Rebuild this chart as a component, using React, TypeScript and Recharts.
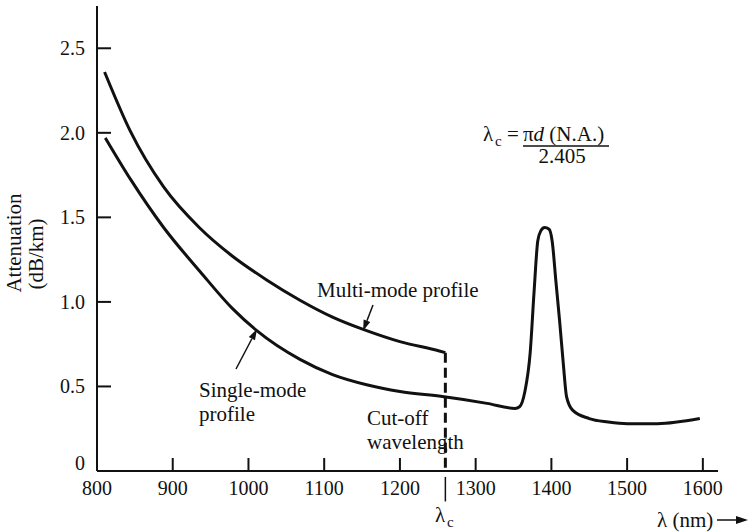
import React from 'react';
import { LineChart, Line, XAxis, YAxis, ReferenceLine } from 'recharts';

const xTicks = [800, 900, 1000, 1100, 1200, 1300, 1400, 1500, 1600];
const yTicks = [0, 0.5, 1.0, 1.5, 2.0, 2.5];
const yTickLabels = ['0', '0.5', '1.0', '1.5', '2.0', '2.5'];

// multi-mode fibre, stops at the cut-off wavelength
const multiModeNm = [810, 844, 888, 935, 979, 1024, 1068, 1111, 1156, 1200, 1252, 1260];
const multiModeDb = [2.36, 2.01, 1.68, 1.44, 1.27, 1.13, 1.01, 0.91, 0.83, 0.765, 0.71, 0.70];

// single-mode fibre, with the water peak near 1390 nm
const singleModeNm = [
  811, 845, 888, 936, 979, 1011, 1068, 1111, 1156, 1200, 1256, 1315, 1352, 1358,
  1365, 1372, 1377, 1382, 1386, 1391, 1397, 1401, 1406, 1411, 1416, 1420, 1428,
  1450, 1475, 1500, 1540, 1596,
];
const singleModeDb = [
  1.97, 1.72, 1.44, 1.18, 0.96, 0.83, 0.66, 0.57, 0.51, 0.47, 0.44, 0.40, 0.37, 0.38,
  0.47, 0.70, 1.05, 1.36, 1.42, 1.44, 1.43, 1.36, 1.12, 0.88, 0.62, 0.44, 0.36,
  0.31, 0.29, 0.28, 0.28, 0.31,
];

const cutoffNm = 1260;
const cutoffDb = 0.70;

const multiMode = multiModeNm.map((nm, i) => ({ nm, db: multiModeDb[i] }));
const singleMode = singleModeNm.map((nm, i) => ({ nm, db: singleModeDb[i] }));

const FONT = "'Liberation Serif', 'Times New Roman', serif";
const INK = '#111';

const XTick = (props: any) => {
  const { x, y, payload } = props;
  return (
    <g>
      {payload.value !== 800 && (
        <line x1={x} x2={x} y1={y} y2={y - 13} stroke={INK} strokeWidth={2} />
      )}
      <text x={x} y={y + 24} textAnchor="middle" fontFamily={FONT} fontSize={20} fill={INK}>
        {payload.value}
      </text>
    </g>
  );
};

const YTick = (props: any) => {
  const { x, y, payload } = props;
  const i = yTicks.indexOf(payload.value);
  const isZero = payload.value === 0;
  return (
    <g>
      {!isZero && <line x1={x} x2={x + 14} y1={y} y2={y} stroke={INK} strokeWidth={2} />}
      <text
        x={x - 12}
        y={isZero ? y - 1 : y + 7}
        textAnchor="end"
        fontFamily={FONT}
        fontSize={20}
        fill={INK}
      >
        {yTickLabels[i]}
      </text>
    </g>
  );
};

const Arrow = ({ x1, y1, x2, y2, head = 11, half = 3.5, sw = 1.5 }: any) => {
  const a = Math.atan2(y2 - y1, x2 - x1);
  const bx = x2 - head * Math.cos(a);
  const by = y2 - head * Math.sin(a);
  const px = -Math.sin(a) * half;
  const py = Math.cos(a) * half;
  return (
    <g>
      <line x1={x1} y1={y1} x2={bx} y2={by} stroke={INK} strokeWidth={sw} />
      <polygon points={`${x2},${y2} ${bx + px},${by + py} ${bx - px},${by - py}`} fill={INK} />
    </g>
  );
};

const txt = { fontFamily: FONT, fontSize: 21, fill: INK };

export default function App() {
  return (
    <div style={{ position: 'absolute', left: 0, top: 0, background: '#fff' }}>
      <LineChart
        width={749}
        height={532}
        margin={{ top: 6, right: 31, bottom: 0, left: 0 }}
      >
        <XAxis
          type="number"
          dataKey="nm"
          domain={[800, 1620]}
          ticks={xTicks}
          height={61}
          tickSize={0}
          tickMargin={0}
          tickLine={false}
          axisLine={{ stroke: INK, strokeWidth: 2 }}
          tick={<XTick />}
        />
        <YAxis
          type="number"
          domain={[0, 2.75]}
          ticks={yTicks}
          width={97}
          tickSize={0}
          tickMargin={0}
          tickLine={false}
          axisLine={{ stroke: INK, strokeWidth: 2 }}
          tick={<YTick />}
        />
        <Line
          data={multiMode}
          dataKey="db"
          type="monotone"
          stroke={INK}
          strokeWidth={3}
          dot={false}
          isAnimationActive={false}
        />
        <Line
          data={singleMode}
          dataKey="db"
          type="monotone"
          stroke={INK}
          strokeWidth={3}
          dot={false}
          isAnimationActive={false}
        />
        <ReferenceLine
          segment={[{ x: cutoffNm, y: cutoffDb }, { x: cutoffNm, y: 0 }]}
          stroke={INK}
          strokeWidth={3}
          strokeDasharray="10 5"
        />
        <ReferenceLine
          segment={[{ x: cutoffNm, y: -0.035 }, { x: cutoffNm, y: -0.18 }]}
          stroke={INK}
          strokeWidth={1.5}
          ifOverflow="visible"
        />

        {/* y axis title */}
        <text {...txt} transform="translate(21,243) rotate(-90)" textAnchor="middle">
          Attenuation
        </text>
        <text {...txt} transform="translate(43,254) rotate(-90)" textAnchor="middle">
          (dB/km)
        </text>

        {/* curve labels */}
        <text {...txt} x={317} y={297}>Multi-mode profile</text>
        <Arrow x1={373} y1={305} x2={363} y2={331} />
        <text {...txt} x={199} y={397}>Single-mode</text>
        <text {...txt} x={199} y={421}>profile</text>
        <Arrow x1={236} y1={369} x2={257} y2={329} />
        <text {...txt} x={367} y={425}>Cut-off</text>
        <text {...txt} x={367} y={449}>wavelength</text>

        {/* cut-off marker under the axis */}
        <text {...txt} x={435} y={522}>λ</text>
        <text {...txt} fontSize={15} x={447} y={527}>c</text>

        {/* axis title with arrow */}
        <text {...txt} x={657} y={527}>λ (nm)</text>
        <Arrow x1={717} y1={520} x2={748} y2={520} head={12} half={4} sw={1.5} />

        {/* cut-off wavelength formula */}
        <text {...txt} x={483} y={141}>λ</text>
        <text {...txt} fontSize={15} x={495} y={146}>c</text>
        <text {...txt} x={507} y={141}>=</text>
        <text {...txt} x={523} y={141}>
          π<tspan fontStyle="italic">d</tspan> (N.A.)
        </text>
        <line x1={523} x2={609} y1={146} y2={146} stroke={INK} strokeWidth={1.5} />
        <text {...txt} x={562} y={163} textAnchor="middle">2.405</text>
      </LineChart>
    </div>
  );
}
